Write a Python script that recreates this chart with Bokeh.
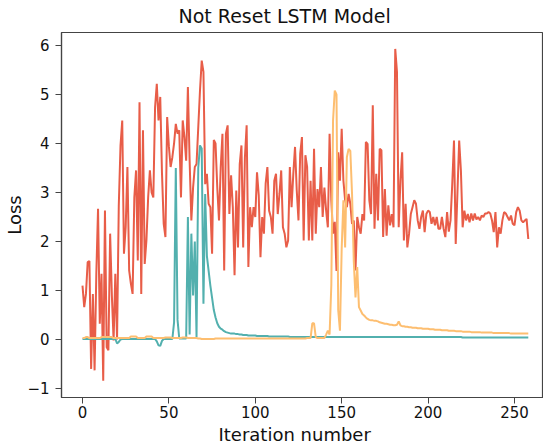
from bokeh.plotting import figure
from bokeh.models import Range1d, FixedTicker, Title
from bokeh.embed import file_html
from bokeh.resources import INLINE

iterations = list(range(0, 259))

loss_red = [
    1.1, 0.66, 0.93, 1.58, 1.6, -0.6, 0.93, -0.63, 1.34, 2.67,
    0.32, 1.34, -0.84, 2.63, -0.16, -0.22, 2.16, 0.9, -0.02, 1.34,
    0.0, 2.73, 3.96, 4.47, 1.75, 2.29, 3.52, 1.41, 1.14, 0.93,
    2.9, 3.45, 1.61, 4.84, 0.93, 4.27, 1.54, 2.02, 2.9, 3.45,
    3.0, 2.9, 4.74, 5.22, 4.47, 4.95, 3.4, 2.36, 2.09, 4.54,
    3.94, 3.52, 3.72, 4.0, 4.4, 4.2, 4.27, 2.9, 4.47, 4.13,
    3.65, 5.15, 3.65, 2.43, 3.1, 3.52, 3.58, 4.33, 5.08, 5.69,
    5.46, 3.17, 3.38, 2.77, 2.7, 1.75, 4.07, 4.0, 3.1, 2.43,
    3.52, 4.2, 1.41, 4.2, 4.37, 2.56, 3.35, 2.7, 1.31, 3.04,
    1.88, 3.58, 3.96, 1.88, 3.72, 4.37, 1.48, 2.7, 2.29, 2.7,
    2.5, 3.41, 2.94, 1.68, 2.5, 2.16, 3.18, 3.52, 2.63, 2.5,
    2.16, 3.24, 3.38, 2.56, 2.97, 3.45, 2.29, 2.16, 1.88, 2.02,
    3.52, 2.7, 3.38, 3.93, 3.04, 2.43, 3.79, 4.13, 2.02, 3.76,
    3.52, 2.02, 3.24, 2.02, 3.89, 2.16, 3.07, 2.7, 3.52, 2.5,
    3.1, 2.63, 2.29, 4.2, 2.84, 2.16, 2.4, 1.4, 3.82, 3.24,
    4.3, 3.24, 2.84, 2.7, 2.97, 2.77, 2.36, 2.43, 1.41, 2.5,
    2.29, 2.16, 2.56, 2.43, 4.03, 3.99, 2.84, 2.56, 4.78, 2.26,
    3.38, 2.43, 3.89, 3.86, 2.09, 3.07, 2.12, 2.74, 2.33, 2.56,
    2.29, 5.93, 5.46, 2.29, 3.24, 3.82, 2.02, 2.77, 1.88, 2.16,
    2.56, 2.7, 2.84, 2.77, 2.43, 2.26, 2.5, 2.63, 2.19, 2.56,
    2.63, 2.6, 2.36, 2.5, 2.33, 2.5, 2.26, 2.26, 2.5, 2.26,
    2.09, 2.6, 2.2, 2.43, 3.18, 4.06, 1.95, 3.0, 4.06, 3.45,
    2.29, 2.63, 2.43, 2.56, 2.39, 2.57, 2.43, 2.57, 2.45, 2.5,
    2.43, 2.53, 2.5, 2.57, 2.57, 2.6, 2.57, 2.43, 2.19, 2.6,
    1.88, 2.29, 2.16, 2.43, 2.6, 2.57, 2.5, 2.43, 2.53, 2.36,
    2.33, 2.6, 2.7, 2.63, 2.43, 2.39, 2.43, 2.46, 2.05,
]

loss_teal = [
    0.01, 0.01, 0.01, 0.01, 0.01, 0.01, 0.01, 0.01, 0.01, 0.01,
    0.01, 0.01, 0.01, 0.01, 0.01, 0.01, 0.01, 0.01, 0.01, 0.01,
    -0.08, -0.05, 0.0, 0.01, 0.01, 0.01, 0.01, 0.01, 0.01, 0.01,
    0.01, 0.01, 0.01, 0.01, 0.01, 0.01, 0.01, 0.01, 0.01, 0.01,
    0.01, 0.01, 0.01, -0.04, -0.12, -0.13, -0.03, 0.01, 0.01, 0.01,
    0.01, 0.01, 0.01, 0.35, 3.5, 0.4, 0.02, 0.02, 0.02, 0.02,
    0.02, 2.5, 0.1, 2.16, 0.9, 2.0, 0.05, 3.5, 3.96, 3.9,
    0.73, 2.97, 1.7, 1.4, 1.1, 0.85, 0.6, 0.45, 0.33, 0.26,
    0.22, 0.2, 0.17, 0.15, 0.14, 0.13, 0.12, 0.12, 0.12, 0.11,
    0.11, 0.1, 0.1, 0.09, 0.09, 0.09, 0.08, 0.08, 0.08, 0.08,
    0.08, 0.07, 0.07, 0.07, 0.07, 0.07, 0.07, 0.07, 0.06, 0.06,
    0.06, 0.06, 0.06, 0.06, 0.06, 0.06, 0.06, 0.06, 0.06, 0.06,
    0.05, 0.05, 0.05, 0.05, 0.05, 0.05, 0.05, 0.05, 0.05, 0.05,
    0.05, 0.05, 0.05, 0.05, 0.05, 0.05, 0.05, 0.05, 0.05, 0.05,
    0.05, 0.05, 0.05, 0.05, 0.05, 0.05, 0.05, 0.05, 0.05, 0.05,
    0.05, 0.05, 0.05, 0.05, 0.05, 0.05, 0.05, 0.05, 0.05, 0.05,
    0.05, 0.05, 0.05, 0.05, 0.05, 0.05, 0.05, 0.05, 0.05, 0.05,
    0.05, 0.05, 0.05, 0.05, 0.05, 0.05, 0.05, 0.05, 0.05, 0.05,
    0.05, 0.05, 0.05, 0.05, 0.05, 0.05, 0.05, 0.05, 0.05, 0.05,
    0.05, 0.05, 0.05, 0.05, 0.05, 0.05, 0.05, 0.05, 0.05, 0.05,
    0.05, 0.05, 0.05, 0.05, 0.05, 0.05, 0.05, 0.05, 0.05, 0.05,
    0.05, 0.05, 0.05, 0.05, 0.05, 0.05, 0.05, 0.05, 0.05, 0.05,
    0.04, 0.04, 0.04, 0.04, 0.04, 0.04, 0.04, 0.04, 0.04, 0.04,
    0.04, 0.04, 0.04, 0.04, 0.04, 0.04, 0.04, 0.04, 0.04, 0.04,
    0.04, 0.04, 0.04, 0.04, 0.04, 0.04, 0.04, 0.04, 0.04, 0.04,
    0.04, 0.04, 0.04, 0.04, 0.04, 0.04, 0.04, 0.04, 0.04,
]

loss_orange = [
    0.03, 0.03, 0.05, 0.05, 0.03, 0.03, 0.03, 0.03, 0.03, 0.03,
    0.03, 0.05, 0.05, 0.05, 0.05, 0.05, 0.05, 0.05, 0.03, 0.03,
    0.03, 0.03, 0.03, 0.03, 0.03, 0.03, 0.03, 0.03, 0.06, 0.06,
    0.06, 0.06, 0.03, 0.03, 0.03, 0.03, 0.03, 0.06, 0.06, 0.06,
    0.06, 0.03, 0.03, 0.03, 0.03, 0.03, 0.03, 0.03, 0.04, 0.04,
    0.04, 0.04, 0.03, 0.03, 0.03, 0.03, 0.03, 0.03, 0.04, 0.04,
    0.04, 0.03, 0.03, 0.03, 0.03, 0.03, 0.03, 0.02, 0.02, 0.01,
    0.01, 0.01, 0.01, 0.01, 0.01, 0.01, 0.01, 0.02, 0.02, 0.02,
    0.02, 0.02, 0.02, 0.02, 0.02, 0.02, 0.02, 0.02, 0.02, 0.02,
    0.02, 0.02, 0.02, 0.02, 0.02, 0.02, 0.02, 0.02, 0.02, 0.02,
    0.02, 0.02, 0.02, 0.02, 0.02, 0.02, 0.02, 0.02, 0.02, 0.02,
    0.02, 0.02, 0.02, 0.02, 0.02, 0.02, 0.02, 0.02, 0.02, 0.02,
    0.02, 0.02, 0.02, 0.02, 0.02, 0.02, 0.02, 0.02, 0.02, 0.02,
    0.03, 0.03, 0.03, 0.33, 0.33, 0.05, 0.03, 0.03, 0.03, 0.03,
    0.03, 0.1, 0.18, 0.1, 1.1, 4.47, 5.08, 5.0, 0.6, 0.18,
    1.85, 2.84, 1.88, 3.72, 3.89, 3.85, 2.97, 1.6, 0.86, 1.48,
    0.66, 0.59, 0.52, 0.49, 0.45, 0.42, 0.4, 0.39, 0.39, 0.38,
    0.38, 0.37, 0.35, 0.34, 0.33, 0.32, 0.32, 0.31, 0.3, 0.3,
    0.29, 0.29, 0.3, 0.37, 0.29, 0.27, 0.27, 0.26, 0.26, 0.25,
    0.25, 0.24, 0.24, 0.24, 0.23, 0.23, 0.23, 0.22, 0.22, 0.22,
    0.22, 0.21, 0.21, 0.21, 0.2, 0.2, 0.2, 0.2, 0.19, 0.19,
    0.19, 0.19, 0.18, 0.18, 0.18, 0.18, 0.17, 0.17, 0.17, 0.17,
    0.16, 0.16, 0.16, 0.16, 0.16, 0.15, 0.15, 0.15, 0.15, 0.15,
    0.15, 0.14, 0.14, 0.14, 0.14, 0.14, 0.14, 0.14, 0.13, 0.13,
    0.13, 0.13, 0.13, 0.13, 0.13, 0.13, 0.13, 0.13, 0.12, 0.12,
    0.12, 0.12, 0.12, 0.12, 0.12, 0.12, 0.12, 0.12, 0.12,
]

x_ticks = [0, 50, 100, 150, 200, 250]
y_ticks = [-1, 0, 1, 2, 3, 4, 5, 6]

FONT = "DejaVu Sans"

p = figure(
    width=543, height=446, output_backend="svg", toolbar_location=None,
    x_range=Range1d(-12.15, 266.8), y_range=Range1d(-1.184, 6.265),
    title="Not Reset LSTM Model",
    min_border_left=61, min_border_top=32, min_border_bottom=49, min_border_right=0,
)
p.background_fill_color = "white"
p.border_fill_color = "white"
p.outline_line_color = "#444444"
p.outline_line_width = 1.2
p.grid.visible = False

p.title.text_font = FONT
p.title.text_font_size = "19px"
p.title.text_font_style = "normal"
p.title.text_color = "#111111"
p.title.align = "left"
p.title.offset = 117
p.title.standoff = 8
p.title.vertical_align = "top"

for ax in (p.xaxis[0], p.yaxis[0]):
    ax.axis_line_color = "#444444"
    ax.axis_line_width = 1.2
    ax.major_tick_line_color = "#444444"
    ax.major_tick_in = 0
    ax.major_tick_out = 6
    ax.minor_tick_line_color = None
    ax.major_label_text_font = FONT
    ax.major_label_text_font_size = "15px"
    ax.major_label_text_color = "#111111"
    ax.axis_label_text_font = FONT
    ax.axis_label_text_font_size = "18px"
    ax.axis_label_text_font_style = "normal"
    ax.axis_label_text_color = "#111111"

p.xaxis.ticker = FixedTicker(ticks=x_ticks)
p.yaxis.ticker = FixedTicker(ticks=y_ticks)
p.yaxis.major_label_overrides = {-1: "\u22121"}
p.yaxis.axis_label = "Loss"
p.xaxis.major_label_standoff = 2
p.yaxis.major_label_standoff = 6
p.yaxis.axis_label_standoff = -1

x_label = Title(
    text="Iteration number", align="left", offset=157, standoff=3,
    text_font=FONT, text_font_size="18px", text_font_style="normal",
    text_color="#111111",
)
p.add_layout(x_label, "below")

p.line(iterations, loss_red, line_color="#E85D48", line_width=2)
p.line(iterations, loss_teal, line_color="#52B0AE", line_width=2)
p.line(iterations, loss_orange, line_color="#FDBE70", line_width=2)

open("out.html", "w").write(file_html(p, INLINE))
